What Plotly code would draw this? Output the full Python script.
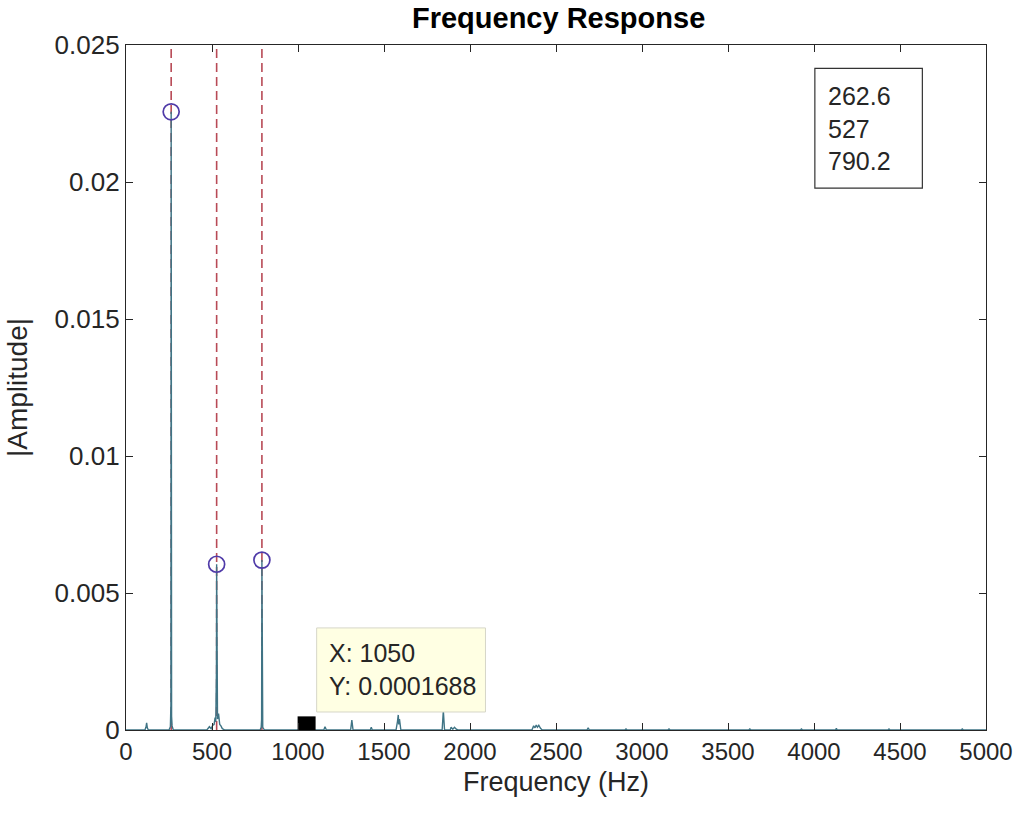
import plotly.graph_objects as go

# ---------------- data ----------------
spec_freq = [0, 110, 116, 120, 124, 130,
             250, 258, 261.0, 262.6, 263.8, 265.0, 268, 275,
             470, 485, 495, 505, 512, 518, 522, 524.5, 525.8, 527.0, 528.2, 529.5, 532, 538, 545, 552, 560, 575,
             780, 786, 788.5, 790.2, 791.8, 795, 805,
             1045, 1050, 1055,
             1150, 1157, 1165,
             1306, 1313, 1320,
             1420, 1426, 1432,
             1570, 1578, 1583, 1586, 1590, 1598,
             1838, 1845, 1852,
             1885, 1890, 1900, 1910, 1920, 1930,
             2360, 2370, 2378, 2385, 2392, 2400, 2410, 2420,
             2680, 2687, 2694,
             2900, 2907, 2914,
             3150, 3157, 3164,
             3620, 3627, 3634,
             3920, 3927, 3934,
             4125, 4130, 4135,
             4430, 4436, 4442,
             4855, 4862, 4869,
             5000]
spec_amp = [0, 0, 0.0001, 0.00026, 0.00008, 0,
            0, 0.00012, 0.0009, 0.02256, 0.0064, 0.0005, 0.00015, 0,
            0, 0.00012, 0.00005, 0.00018, 0.0002, 0.00045, 0.0003, 0.0009, 0.0022, 0.00605, 0.0041, 0.0012, 0.0004, 0.0006, 0.0002, 0.00015, 0.00005, 0,
            0, 0.0001, 0.0004, 0.0062, 0.0004, 0.0001, 0,
            0, 0.0001688, 0,
            0, 0.00012, 0,
            0, 0.00036, 0,
            0, 0.0001, 0,
            0, 0.0003, 0.00055, 0.0002, 0.0004, 0,
            0, 0.0007, 0,
            0, 0.0001, 0.00003, 0.0001, 0.00003, 0,
            0, 0.00015, 0.00008, 0.00018, 0.0001, 0.00017, 0.00006, 0,
            0, 0.00008, 0,
            0, 0.00004, 0,
            0, 0.00004, 0,
            0, 0.00004, 0,
            0, 0.00004, 0,
            0, 0.00006, 0,
            0, 0.00004, 0,
            0, 0.00004, 0,
            0]

peak_freq = [262.6, 527, 790.2]
peak_amp = [0.02256, 0.00605, 0.0062]
peak_labels = ["262.6", "527", "790.2"]

tip_x = [1050]
tip_y = [0.0001688]
tip_labels = ["X: 1050", "Y: 0.0001688"]

x_ticks = [0, 500, 1000, 1500, 2000, 2500, 3000, 3500, 4000, 4500, 5000]
x_ticktext = ["0", "500", "1000", "1500", "2000", "2500", "3000", "3500", "4000", "4500", "5000"]
y_ticks = [0, 0.005, 0.01, 0.015, 0.02, 0.025]
y_ticktext = ["0", "0.005", "0.01", "0.015", "0.02", "0.025"]

FONT = "Liberation Sans, Arial, sans-serif"
AX = "#262626"

fig = go.Figure()

for f in peak_freq:
    fig.add_vline(x=f, line=dict(color="#b84a56", width=1.6, dash="9px,5px"), layer="below")

fig.add_trace(go.Scatter(x=spec_freq, y=spec_amp, mode="lines",
                         line=dict(color="#3f7485", width=1.4),
                         showlegend=False, hoverinfo="skip"))

fig.add_trace(go.Scatter(x=peak_freq, y=peak_amp, mode="markers",
                         marker=dict(symbol="circle-open", size=16, color="#4f3aa8",
                                     line=dict(width=1.7, color="#4f3aa8")),
                         showlegend=False, hoverinfo="skip"))

fig.add_trace(go.Scatter(x=tip_x, y=tip_y, mode="markers",
                         marker=dict(symbol="square", size=18, color="black"),
                         showlegend=False, hoverinfo="skip"))

# text box with peak frequencies
fig.add_shape(type="rect", xref="paper", yref="paper", x0=0.801, x1=0.926, y0=0.791, y1=0.966,
              line=dict(color="#333333", width=1.2), fillcolor="white", layer="above")
fig.add_annotation(xref="paper", yref="paper", x=0.814, y=0.878, xanchor="left", yanchor="middle",
                   text="<br>".join(peak_labels), showarrow=False, align="left",
                   font=dict(family=FONT, size=25, color=AX))

# data tip box
fig.add_shape(type="rect", xref="paper", yref="paper", x0=0.2217, x1=0.418, y0=0.0263, y1=0.149,
              line=dict(color="#d6d6c8", width=1), fillcolor="#ffffe3", layer="above")
fig.add_annotation(xref="paper", yref="paper", x=0.234, y=0.088, xanchor="left", yanchor="middle",
                   text="<br>".join(tip_labels), showarrow=False, align="left",
                   font=dict(family=FONT, size=25, color=AX))

# x-axis label
fig.add_annotation(xref="paper", yref="paper", x=0.5, y=-0.076, xanchor="center", yanchor="middle",
                   text="Frequency (Hz)", showarrow=False,
                   font=dict(family=FONT, size=27, color=AX))

fig.update_layout(
    width=1025, height=820,
    margin=dict(l=126, r=33, t=45, b=90),
    paper_bgcolor="white", plot_bgcolor="white",
    title=dict(text="<b>Frequency Response</b>", x=0.545, xanchor="center",
               y=0.978, yanchor="middle", yref="container",
               font=dict(family=FONT, size=29, color="black")),
    xaxis=dict(range=[0, 5000], tickvals=x_ticks, ticktext=x_ticktext,
               showgrid=False, zeroline=False, showline=True, linecolor=AX, linewidth=1.2,
               mirror="allticks", ticks="inside", ticklen=7, tickcolor=AX, tickwidth=1.2,
               tickfont=dict(family=FONT, size=24, color=AX)),
    yaxis=dict(range=[0, 0.025], tickvals=y_ticks, ticktext=y_ticktext,
               showgrid=False, zeroline=False, showline=True, linecolor=AX, linewidth=1.2,
               mirror="allticks", ticks="inside", ticklen=7, tickcolor=AX, tickwidth=1.2,
               tickfont=dict(family=FONT, size=26, color=AX),
               title=dict(text="|Amplitude|", standoff=18,
                          font=dict(family=FONT, size=28, color=AX))),
)

fig.write_html("out.html")
